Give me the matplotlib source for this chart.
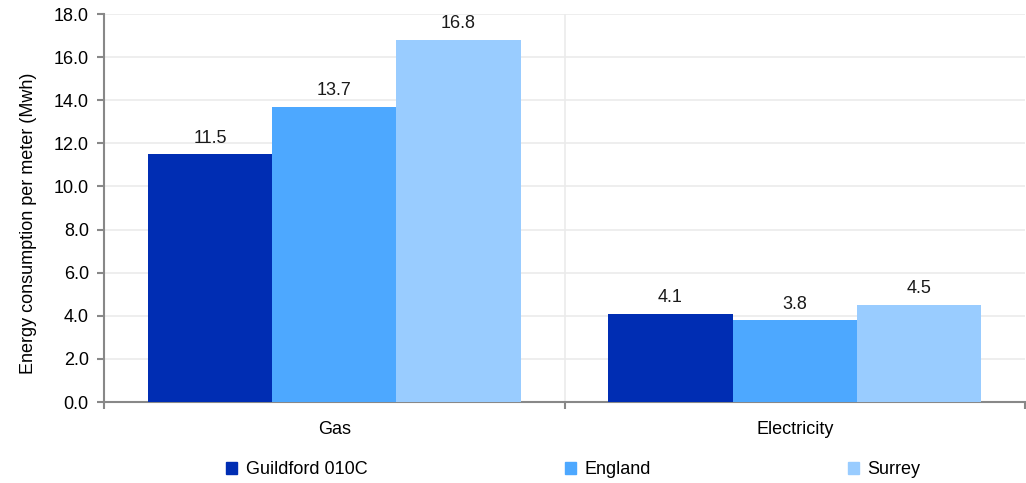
import numpy as np
import matplotlib
matplotlib.use("Agg")
import matplotlib.pyplot as plt
from matplotlib.patches import Patch

plt.rcParams['font.family'] = ['Liberation Sans', 'DejaVu Sans']

# Data
categories = ['Gas', 'Electricity']
series = ['Guildford 010C', 'England', 'Surrey']
guildford = [11.5, 4.1]
england = [13.7, 3.8]
surrey = [16.8, 4.5]
colors = ['#002DB3', '#4DA8FF', '#99CCFF']

fs = 13

fig = plt.figure(figsize=(10.26, 4.83), dpi=100)
ax = fig.add_axes([0.1014, 0.1677, 0.8976, 0.8033])

x = np.arange(len(categories))
width = 0.27
for i, (vals, col) in enumerate(zip([guildford, england, surrey], colors)):
    pos = x + (i - 1) * width
    bars = ax.bar(pos, vals, width, color=col, zorder=3)
    for b, v in zip(bars, vals):
        ax.text(b.get_x() + b.get_width() / 2, v + 0.35, f'{v:.1f}',
                ha='center', va='bottom', fontsize=fs, color='#1a1a1a')

ax.set_xlim(-0.5, 1.5)
ax.set_ylim(0, 18)
ax.set_yticks(np.arange(0, 18.1, 2))
ax.set_yticklabels([f'{v:.1f}' for v in np.arange(0, 18.1, 2)])
ax.set_xticks([-0.5, 0.5, 1.5])
ax.set_xticklabels([])
ax.set_xticks(x, minor=True)
ax.set_xticklabels(categories, minor=True)
ax.tick_params(axis='x', which='minor', length=0, pad=14, labelsize=fs)
ax.tick_params(axis='x', which='major', length=5, width=1.5, color='#888888')
ax.tick_params(axis='y', length=5, width=1.5, color='#888888', labelsize=fs,
               pad=6)

ax.grid(axis='y', color='#ebebeb', linewidth=1.2, zorder=0)
ax.axvline(0.5, color='#ebebeb', linewidth=1.2, zorder=0)

for s in ['top', 'right']:
    ax.spines[s].set_visible(False)
for s in ['left', 'bottom']:
    ax.spines[s].set_color('#888888')
    ax.spines[s].set_linewidth(1.5)

ax.set_ylabel('Energy consumption per meter (Mwh)', fontsize=fs)
ax.yaxis.set_label_coords(-0.073, 0.46)

handles = [Patch(color=c) for c in colors]
fig.legend(handles, series, loc='center', bbox_to_anchor=(0.559, 0.027), ncol=3,
           frameon=False, fontsize=fs, handlelength=0.6, handleheight=0.6,
           handletextpad=0.5, columnspacing=10.9)

fig.savefig('out.png', dpi=100)
